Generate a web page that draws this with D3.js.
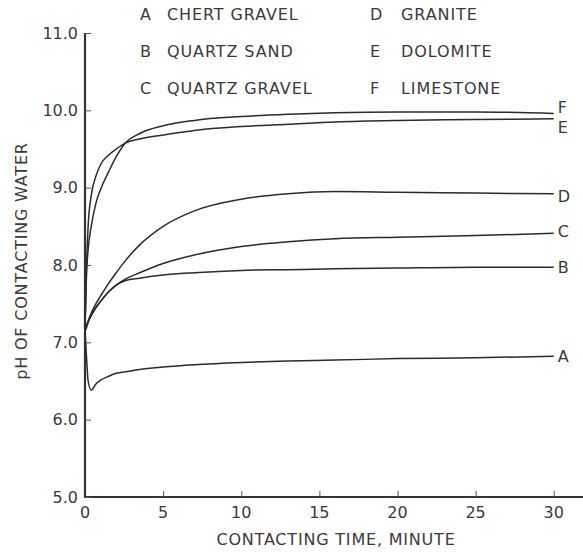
<!DOCTYPE html>
<html>
<head>
<meta charset="utf-8">
<script src="https://cdn.jsdelivr.net/npm/d3@7"></script>
<style>
  body { margin: 0; background: #fff; }
  svg text { font-family: "DejaVu Sans", sans-serif; fill: #3a3a3a; }
</style>
</head>
<body>
<div id="chart"></div>
<script>
// contacting time, minutes
var times = [0, 0.1, 0.2, 0.4, 0.7, 1, 1.5, 2, 2.6, 3.5, 5, 7, 10, 13, 16, 20, 25, 30];

// pH of contacting water for each material
var chertGravel   = [7.15, 6.8, 6.5, 6.38, 6.46, 6.51, 6.56, 6.6, 6.62, 6.65, 6.68, 6.71, 6.74, 6.76, 6.77, 6.79, 6.8, 6.82];
var quartzSand    = [7.15, 7.2, 7.26, 7.35, 7.45, 7.53, 7.65, 7.74, 7.8, 7.83, 7.87, 7.9, 7.93, 7.94, 7.95, 7.96, 7.97, 7.97];
var quartzGravel  = [7.15, 7.2, 7.26, 7.35, 7.45, 7.53, 7.65, 7.74, 7.82, 7.9, 8.02, 8.13, 8.24, 8.3, 8.34, 8.36, 8.38, 8.41];
var granite       = [7.18, 7.22, 7.28, 7.38, 7.5, 7.6, 7.76, 7.9, 8.06, 8.26, 8.5, 8.7, 8.85, 8.92, 8.95, 8.94, 8.93, 8.92];
var dolomite      = [7.2, 8.0, 8.5, 8.9, 9.15, 9.3, 9.42, 9.5, 9.58, 9.63, 9.68, 9.74, 9.79, 9.82, 9.85, 9.87, 9.88, 9.89];
var limestone     = [7.2, 7.9, 8.2, 8.5, 8.8, 8.98, 9.2, 9.4, 9.58, 9.7, 9.8, 9.87, 9.92, 9.95, 9.97, 9.98, 9.98, 9.96];

var letters = ["A", "B", "C", "D", "E", "F"];
var names = ["CHERT GRAVEL", "QUARTZ SAND", "QUARTZ GRAVEL", "GRANITE", "DOLOMITE", "LIMESTONE"];
var seriesValues = [chertGravel, quartzSand, quartzGravel, granite, dolomite, limestone];

var xTicks = [0, 5, 10, 15, 20, 25, 30];
var yTicks = [5, 6, 7, 8, 9, 10, 11];

var width = 583, height = 552;

var x = d3.scaleLinear().domain([0, 32]).range([85, 585]);
var y = d3.scaleLinear().domain([5, 11]).range([497, 33]);

var svg = d3.select("#chart").append("svg")
    .attr("width", width)
    .attr("height", height);

// axes, ticks pointing inward
var xAxis = d3.axisTop(x).tickValues(xTicks).tickSize(6).tickFormat("");
var yAxis = d3.axisRight(y).tickValues(yTicks).tickSize(6).tickFormat("");

var gx = svg.append("g").attr("transform", "translate(0," + y(5) + ")").call(xAxis);
var gy = svg.append("g").attr("transform", "translate(" + x(0) + ",0)").call(yAxis);
gx.select(".domain").attr("stroke", "#333").attr("stroke-width", 2.2).attr("d", "M" + x(0) + ",0H583");
gy.select(".domain").attr("stroke", "#333").attr("stroke-width", 2.2).attr("d", "M0," + y(11) + "V" + (y(5) + 1));
svg.selectAll(".tick line").attr("stroke", "#555").attr("stroke-width", 1);

// tick labels
svg.append("g").selectAll("text")
    .data(xTicks)
    .join("text")
    .attr("x", d => x(d))
    .attr("y", 518)
    .attr("text-anchor", "middle")
    .attr("font-size", 16)
    .text(d => d);

svg.append("g").selectAll("text")
    .data(yTicks)
    .join("text")
    .attr("x", 78)
    .attr("y", d => y(d))
    .attr("dy", "0.36em")
    .attr("text-anchor", "end")
    .attr("font-size", 16)
    .text(d => d.toFixed(1));

// axis titles
svg.append("text")
    .attr("x", 336)
    .attr("y", 545)
    .attr("text-anchor", "middle")
    .attr("font-size", 16)
    .attr("letter-spacing", 0.8)
    .text("CONTACTING TIME, MINUTE");

svg.append("text")
    .attr("transform", "translate(27,261) rotate(-90)")
    .attr("text-anchor", "middle")
    .attr("font-size", 16)
    .attr("letter-spacing", 0.8)
    .text("pH OF CONTACTING WATER");

// curves
var line = d3.line()
    .x((d, i) => x(times[i]))
    .y(d => y(d))
    .curve(d3.curveMonotoneX);

svg.append("g").selectAll("path")
    .data(seriesValues)
    .join("path")
    .attr("d", d => line(d))
    .attr("fill", "none")
    .attr("stroke", "#2b2b2b")
    .attr("stroke-width", 1.5);

// end labels next to each curve
var labelShift = [0, 0, -2, 2, 8, -6];
svg.append("g").selectAll("text")
    .data(seriesValues)
    .join("text")
    .attr("x", x(30) + 4)
    .attr("y", (d, i) => y(d[d.length - 1]) + labelShift[i])
    .attr("dy", "0.36em")
    .attr("font-size", 16)
    .text((d, i) => letters[i]);

// legend
var legend = svg.append("g").selectAll("g")
    .data(names)
    .join("g")
    .attr("transform", (d, i) => "translate(" + (i < 3 ? 140 : 370) + "," + (14 + (i % 3) * 37) + ")");

legend.append("text")
    .attr("dy", "0.36em")
    .attr("font-size", 16)
    .text((d, i) => letters[i]);

legend.append("text")
    .attr("x", (d, i) => i < 3 ? 27 : 31)
    .attr("dy", "0.36em")
    .attr("font-size", 16)
    .attr("letter-spacing", 0.9)
    .text(d => d);
</script>
</body>
</html>
